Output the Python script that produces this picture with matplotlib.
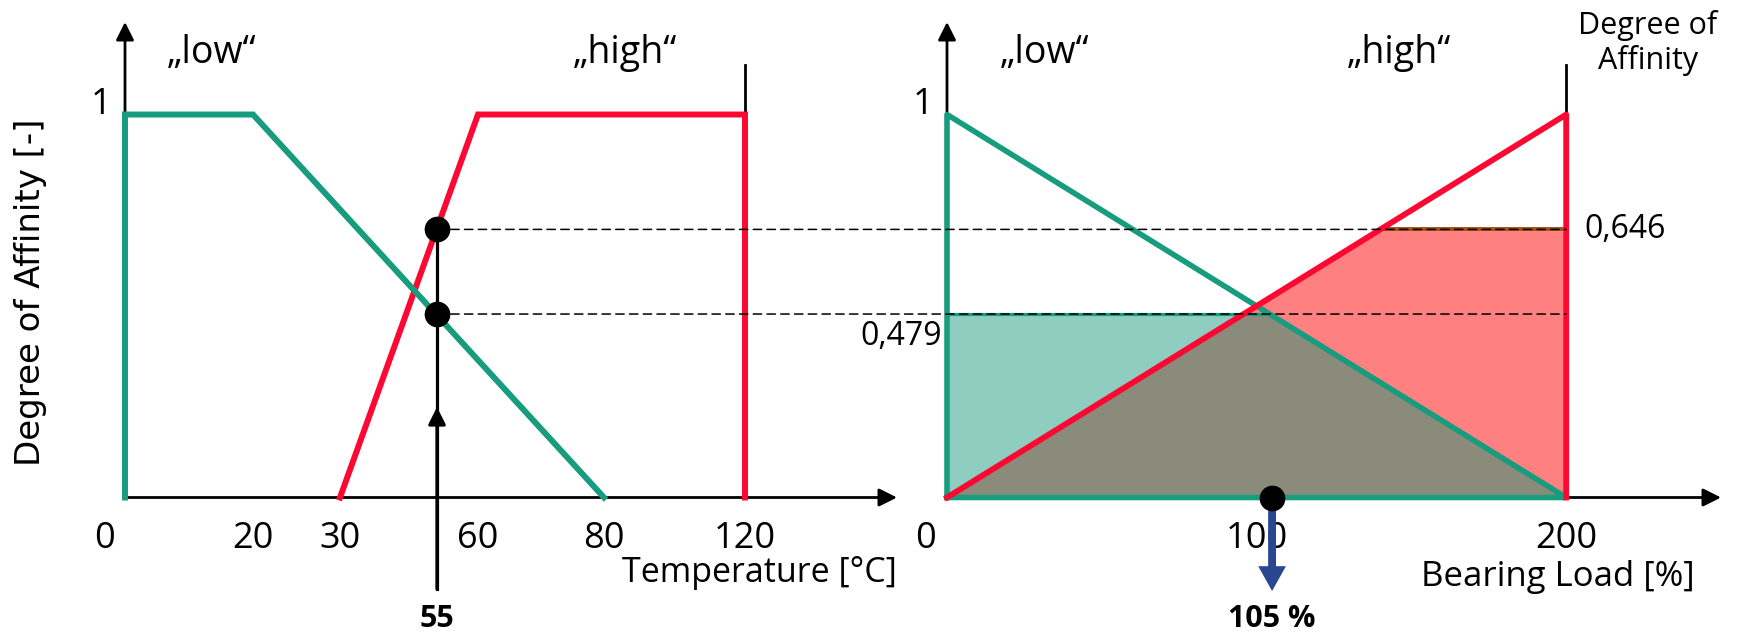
import numpy as np
import matplotlib
matplotlib.use("Agg")
import matplotlib.pyplot as plt
from matplotlib import transforms
from matplotlib.patches import ConnectionPatch

plt.rcParams['font.family'] = ['Open Sans', 'DejaVu Sans']

# ---- temperature input (left) ----
temp_ticks = [0, 20, 30, 60, 80, 120]
low_temp_x = [0, 0, 20, 80]
low_temp_y = [0, 1, 1, 0]
high_temp_x = [30, 60, 120, 120]
high_temp_y = [0, 1, 1, 0]
crisp_temp = 55
crisp_temp_label = "55"
# degrees of affinity at 55 degC: drawn height and printed value
degree_high = 0.70
degree_low = 0.479
degree_high_label = "0,646"
degree_low_label = "0,479"

# ---- bearing load output (right) ----
load_ticks = [0, 100, 200]
load_x = [0, 200]
load_low = [1, 0]
load_high = [0, 1]
crisp_load = 105
crisp_load_label = "105 %"

GREEN = '#179c7d'
RED = '#fd0832'
TEAL_FILL = '#8ecdc0'
RED_FILL = '#ff8080'
GRAY = '#8a8b7b'
BROWN = '#a4500f'
BLUE = '#2a4690'

W, H = 1743, 633
BASE_PX, TOP_PX, UNIT_PX = 497.5, 22, 383

# the temperature axis of the original is drawn schematically, not to scale
warp_temp = [0, 20, 30, 55, 60, 80, 120, 150]
warp_px = [0, 128, 215, 312, 353, 479, 620, 772]


def fwd(v):
    return np.interp(v, warp_temp, warp_px)


def inv(p):
    return np.interp(p, warp_px, warp_temp)


def y_of(py):
    return (BASE_PX - py) / UNIT_PX


def fpos(x, y):
    return x / W, 1 - y / H


fig = plt.figure(figsize=(W / 100, H / 100), dpi=100)
bottom = 1 - BASE_PX / H
height = (BASE_PX - TOP_PX) / H
ax1 = fig.add_axes([125 / W, bottom, (897 - 125) / W, height])
ax2 = fig.add_axes([947 / W, bottom, (1721 - 947) / W, height])

ax1.set_xscale('function', functions=(fwd, inv))
ax1.set_xlim(warp_temp[0], warp_temp[-1])
ax2.set_xlim(0, 250)

arrow_kw = dict(arrowstyle='-|>', color='black', lw=2, mutation_scale=27,
                shrinkA=0, shrinkB=0)
for ax, ticks in ((ax1, temp_ticks), (ax2, load_ticks)):
    ax.set_ylim(0, y_of(TOP_PX))
    for s in ax.spines.values():
        s.set_visible(False)
    ax.set_yticks([])
    ax.set_xticks(ticks, labels=[str(t) for t in ticks])
    ax.tick_params(axis='x', length=0, pad=17, labelsize=26)
    # the "0" sits left of the axis corner
    lbl = ax.get_xticklabels()[0]
    lbl.set_transform(lbl.get_transform() +
                      transforms.ScaledTranslation(-21 / 100, 0, fig.dpi_scale_trans))
    ax.annotate('', xy=(1, 0), xytext=(0, 0), xycoords='axes fraction',
                arrowprops=arrow_kw, zorder=1.5)
    ax.annotate('', xy=(0, 1), xytext=(0, 0), xycoords='axes fraction',
                arrowprops=arrow_kw, zorder=1.5)
    ax.annotate('1', xy=(0, 1), xytext=(-14, 0), textcoords='offset pixels',
                ha='right', va='baseline', fontsize=26)

tick_top = 1.13

# left panel
ax1.plot([temp_ticks[-1]] * 2, [1, tick_top], color='black', lw=2, zorder=1.9)
ax1.plot(high_temp_x, high_temp_y, color=RED, lw=4.3, solid_joinstyle='miter',
         clip_on=False, zorder=2)
ax1.plot(low_temp_x, low_temp_y, color=GREEN, lw=4.3, solid_joinstyle='miter',
         clip_on=False, zorder=2.1)

arrow_tail, arrow_tip = y_of(589), y_of(407)
ax1.plot([crisp_temp] * 2, [arrow_tail, degree_high], color='black', lw=2.3,
         clip_on=False, zorder=4)
ax1.annotate('', xy=(crisp_temp, arrow_tip), xytext=(crisp_temp, arrow_tail),
             arrowprops=dict(arrowstyle='-|>', color='black', lw=2.3,
                             mutation_scale=26, shrinkA=0, shrinkB=0),
             annotation_clip=False, zorder=4)
ax1.plot([crisp_temp] * 2, [degree_high, degree_low], 'o', color='black',
         ms=17.5, zorder=5)
ax1.text(crisp_temp, y_of(619), crisp_temp_label, ha='center', va='center',
         fontsize=22, fontweight='bold')
ax1.text(1, y_of(573), 'Temperature [°C]',
         transform=transforms.blended_transform_factory(ax1.transAxes, ax1.transData),
         ha='right', va='center', fontsize=24.5)

# right panel: clipped output sets
xs = np.linspace(load_x[0], load_x[-1], 801)
mu_low = np.minimum(np.interp(xs, load_x, load_low), degree_low)
mu_high = np.minimum(np.interp(xs, load_x, load_high), degree_high)
ax2.fill_between(xs, 0, mu_low, color=TEAL_FILL, lw=0, zorder=1)
ax2.fill_between(xs, 0, mu_high, color=RED_FILL, lw=0, zorder=1.1)
ax2.fill_between(xs, 0, np.minimum(mu_low, mu_high), color=GRAY, lw=0, zorder=1.2)
flat = mu_low >= degree_low
ax2.plot(xs[flat], mu_low[flat], color=GREEN, lw=2.3, zorder=1.3)
flat = mu_high >= degree_high
ax2.plot(xs[flat], mu_high[flat], color=BROWN, lw=2.8, zorder=1.3)

ax2.plot([load_x[-1]] * 2, [1, tick_top], color='black', lw=2, zorder=1.9)
ax2.plot([load_x[0]] + load_x + [load_x[0]], [0] + load_low + [0], color=GREEN,
         lw=4, clip_on=False, zorder=2)
ax2.plot(load_x + [load_x[-1]], load_high + [0], color=RED, lw=4.2,
         clip_on=False, zorder=2.1)

ax2.annotate('', xy=(crisp_load, y_of(591)), xytext=(crisp_load, 0),
             arrowprops=dict(arrowstyle='simple,head_length=0.85,head_width=0.95,tail_width=0.27',
                             mutation_scale=21, color=BLUE, lw=0, shrinkA=0, shrinkB=0),
             annotation_clip=False, zorder=4)
ax2.plot([crisp_load], [0], 'o', color='black', ms=17.5, clip_on=False, zorder=5)
ax2.text(crisp_load, y_of(619), crisp_load_label, ha='center', va='center',
         fontsize=22, fontweight='bold')
ax2.text((1695 - 947) / 774, y_of(577), 'Bearing Load [%]',
         transform=transforms.blended_transform_factory(ax2.transAxes, ax2.transData),
         ha='right', va='center', fontsize=25)
ax2.annotate(degree_high_label, xy=(load_x[-1], degree_high), xytext=(18, 0),
             textcoords='offset pixels', ha='left', va='center', fontsize=23)
ax2.annotate(degree_low_label, xy=(load_x[0], degree_low), xytext=(-5, -22),
             textcoords='offset pixels', ha='right', va='center', fontsize=23)

# dashed transfer lines from the input side to the output side
for lvl in (degree_high, degree_low):
    con = ConnectionPatch(xyA=(crisp_temp, lvl), coordsA=ax1.transData,
                          xyB=(load_x[-1], lvl), coordsB=ax2.transData,
                          color='black', lw=1.1, linestyle=(0, (5.5, 3.5)), zorder=3)
    fig.add_artist(con)

# set names
for x, name in ((212, 'low'), (625, 'high'), (1045, 'low'), (1399, 'high')):
    fig.text(*fpos(x, 63), '\u201e' + name + '\u201c', ha='center', va='baseline',
             fontsize=27)

fig.text(*fpos(31, 292), 'Degree of Affinity [-]', rotation=90, ha='center',
         va='center', fontsize=24.5, family='DejaVu Sans')
fig.text(*fpos(1648, 43), 'Degree of\nAffinity', ha='center', va='center',
         fontsize=22, linespacing=1.2)

fig.savefig('out.png', dpi=100)
